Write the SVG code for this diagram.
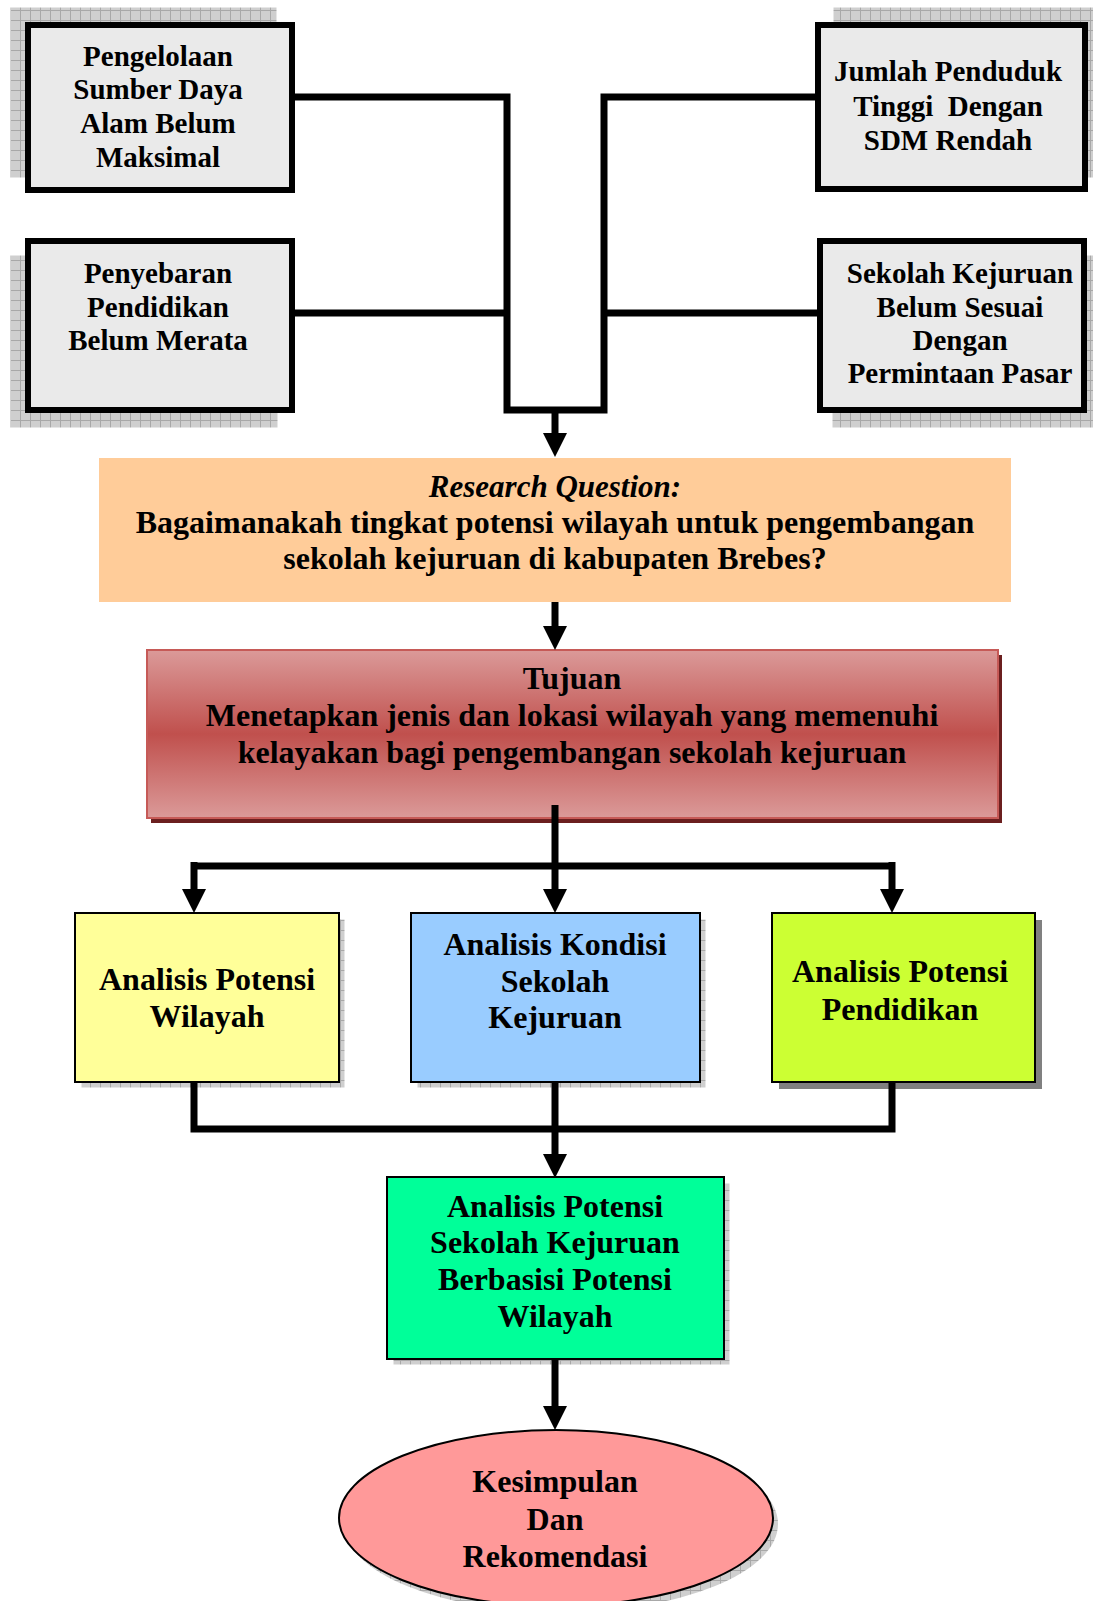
<svg xmlns="http://www.w3.org/2000/svg" width="1093" height="1601" viewBox="0 0 1093 1601">
<defs>
<pattern id="grid" width="10" height="10" patternUnits="userSpaceOnUse">
<rect width="10" height="10" fill="#cfcfcf"/>
<path d="M0,0.5 H10 M0.5,0 V10" stroke="#a8a8a8" stroke-width="1"/>
</pattern>
<linearGradient id="red" x1="0" y1="0" x2="0" y2="1">
<stop offset="0" stop-color="#DB9A99"/>
<stop offset="0.5" stop-color="#C0504D"/>
<stop offset="1" stop-color="#DB9A99"/>
</linearGradient>
<marker id="ah" markerUnits="userSpaceOnUse" markerWidth="24" markerHeight="24" viewBox="0 0 24 24" refX="12" refY="12" orient="auto">
<path d="M0,0 L24,12 L0,24 Z" fill="#000"/>
</marker>
</defs>
<style>
text{font-family:"Liberation Serif","Times New Roman",serif;font-weight:bold;fill:#000;text-anchor:middle}
.t29{font-size:29px}
.t32{font-size:32px}
.sh{fill:url(#grid);stroke:#fff;stroke-width:1}
.top{fill:#EAEAEA;stroke:#000;stroke-width:6}
.box{stroke:#000;stroke-width:2}
.con{fill:none;stroke:#000;stroke-width:7;stroke-linejoin:miter}
.arr{fill:none;stroke:#000;stroke-width:7;marker-end:url(#ah)}
</style>

<g id="node-pengelolaan">
<rect class="sh" x="10" y="7" width="267" height="171"/>
<rect class="top" x="28" y="25" width="264" height="165"/>
<text class="t29" x="158"><tspan x="158" y="66">Pengelolaan</tspan><tspan x="158" y="99">Sumber Daya</tspan><tspan x="158" y="133">Alam Belum</tspan><tspan x="158" y="167">Maksimal</tspan></text>
</g>

<g id="node-jumlah">
<rect class="sh" x="833" y="7" width="273" height="171"/>
<rect class="top" x="818" y="25" width="267" height="164"/>
<text class="t29" x="948" style="white-space:pre"><tspan x="948" y="81">Jumlah Penduduk</tspan><tspan x="948" y="116">Tinggi  Dengan</tspan><tspan x="948" y="150">SDM Rendah</tspan></text>
</g>

<g id="node-penyebaran">
<rect class="sh" x="10" y="255" width="268" height="173"/>
<rect class="top" x="28" y="241" width="264" height="169"/>
<text class="t29" x="158"><tspan x="158" y="283">Penyebaran</tspan><tspan x="158" y="317">Pendidikan</tspan><tspan x="158" y="350">Belum Merata</tspan></text>
</g>

<g id="node-sekolah">
<rect class="sh" x="832" y="255" width="270" height="173"/>
<rect class="top" x="820" y="241" width="264" height="169"/>
<text class="t29" x="960"><tspan x="960" y="283">Sekolah Kejuruan</tspan><tspan x="960" y="317">Belum Sesuai</tspan><tspan x="960" y="350">Dengan</tspan><tspan x="960" y="383">Permintaan Pasar</tspan></text>
</g>

<g id="node-research">
<rect x="99" y="458" width="912" height="144" fill="#FFCC99"/>
<text class="t32"><tspan x="555" y="497" font-style="italic" font-size="31">Research Question:</tspan><tspan x="555" y="533">Bagaimanakah tingkat potensi wilayah untuk pengembangan</tspan><tspan x="555" y="569">sekolah kejuruan di kabupaten Brebes?</tspan></text>
</g>

<g id="node-tujuan">
<rect x="151" y="655" width="851" height="168" fill="#6B1F1F"/>
<rect x="147" y="650" width="851" height="168" fill="url(#red)" stroke="#C65A57" stroke-width="2"/>
<text class="t32"><tspan x="572" y="689">Tujuan</tspan><tspan x="572" y="726">Menetapkan jenis dan lokasi wilayah yang memenuhi</tspan><tspan x="572" y="763">kelayakan bagi pengembangan sekolah kejuruan</tspan></text>
</g>

<g id="node-potensi-wilayah">
<rect class="sh" x="81" y="919" width="264" height="169" stroke="none"/>
<rect class="box" x="75" y="913" width="264" height="169" fill="#FFFF99"/>
<text class="t32"><tspan x="207" y="990">Analisis Potensi</tspan><tspan x="207" y="1027">Wilayah</tspan></text>
</g>

<g id="node-kondisi-sekolah">
<rect class="sh" x="417" y="919" width="289" height="169" stroke="none"/>
<rect class="box" x="411" y="913" width="289" height="169" fill="#99CCFF"/>
<text class="t32"><tspan x="555" y="955">Analisis Kondisi</tspan><tspan x="555" y="992">Sekolah</tspan><tspan x="555" y="1028">Kejuruan</tspan></text>
</g>

<g id="node-potensi-pendidikan">
<rect x="779" y="920" width="263" height="169" fill="#808080"/>
<rect class="box" x="772" y="913" width="263" height="169" fill="#CCFF33"/>
<text class="t32"><tspan x="900" y="982">Analisis Potensi</tspan><tspan x="900" y="1020">Pendidikan</tspan></text>
</g>

<g id="node-potensi-sekolah">
<rect class="sh" x="393" y="1183" width="337" height="182" stroke="none"/>
<rect class="box" x="387" y="1177" width="337" height="182" fill="#00FF99"/>
<text class="t32"><tspan x="555" y="1217">Analisis Potensi</tspan><tspan x="555" y="1253">Sekolah Kejuruan</tspan><tspan x="555" y="1290">Berbasisi Potensi</tspan><tspan x="555" y="1327">Wilayah</tspan></text>
</g>

<g id="node-kesimpulan">
<ellipse cx="561" cy="1524" rx="217" ry="88" fill="url(#grid)"/>
<ellipse class="box" cx="556" cy="1518" rx="217" ry="88" fill="#FF9999"/>
<text class="t32"><tspan x="555" y="1492">Kesimpulan</tspan><tspan x="555" y="1530">Dan</tspan><tspan x="555" y="1567">Rekomendasi</tspan></text>
</g>

<g id="connectors">
<path class="con" d="M292,97 H507 V410 H604 V97 H818"/>
<path class="con" d="M292,313 H507 M604,313 H820"/>
<path class="arr" d="M555,410 V445"/>
<path class="arr" d="M555,602 V638"/>
<path class="con" d="M555,805 V866 M194,866 H892"/>
<path class="arr" d="M194,862 V901"/>
<path class="arr" d="M555,866 V901"/>
<path class="arr" d="M892,862 V901"/>
<path class="con" d="M194,1082 V1129 H892 V1082"/>
<path class="arr" d="M555,1082 V1166"/>
<path class="arr" d="M555,1359 V1418"/>
</g>
</svg>
